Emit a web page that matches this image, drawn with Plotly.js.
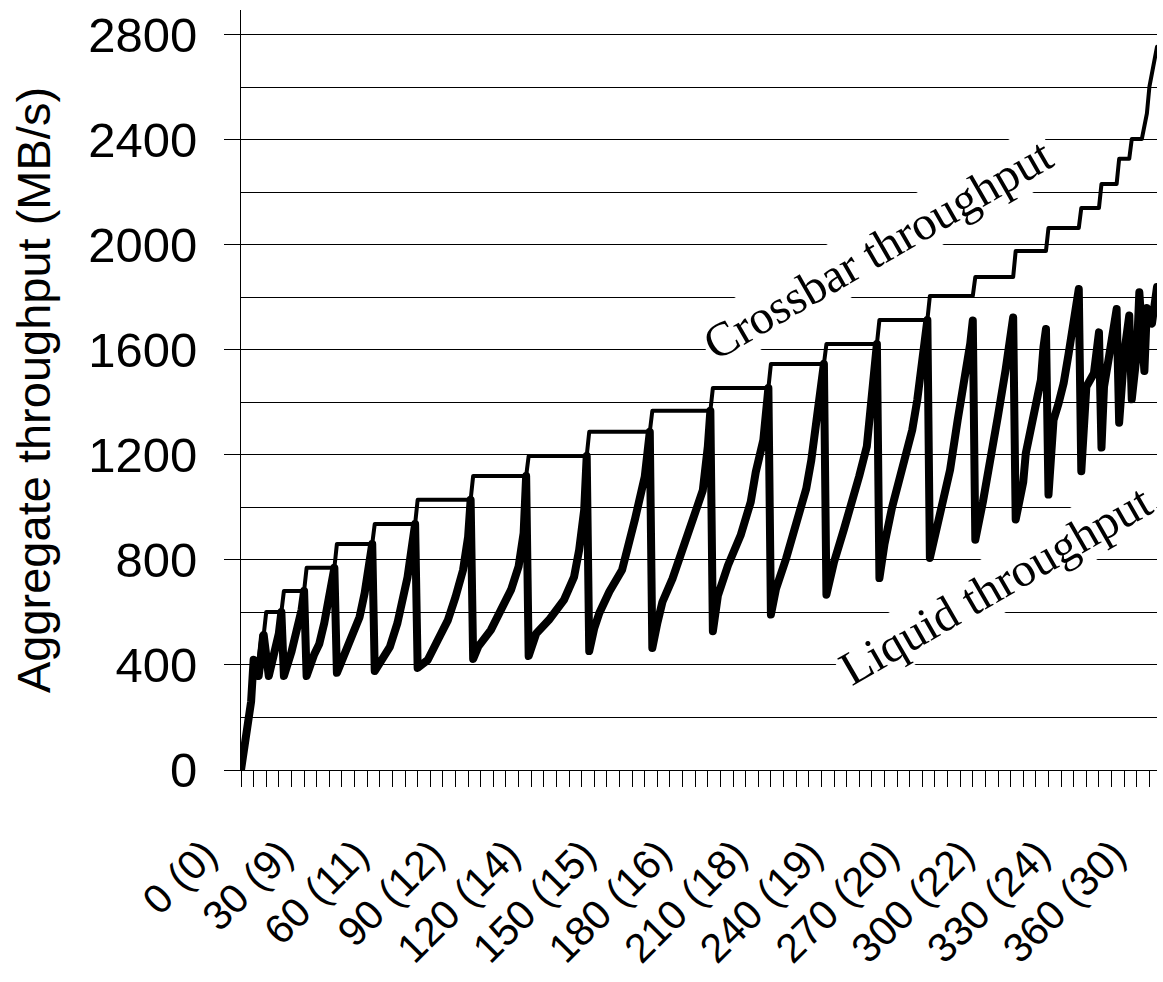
<!DOCTYPE html>
<html>
<head>
<meta charset="utf-8">
<script src="https://cdn.plot.ly/plotly-3.0.1.min.js"></script>
<style>
  html, body { margin: 0; padding: 0; background: #fff; }
  #chart { width: 1163px; height: 982px; }
  path.js-line { stroke-linejoin: round !important; stroke-linecap: round !important; }
</style>
</head>
<body>
<div id="chart"></div>
<script>
// Category index (seconds) and values
const crossbarX = [0, 3, 4, 5, 7, 8, 9, 10, 16, 17, 25, 26, 37, 38, 52, 53, 69, 70, 91, 92, 113, 114, 137, 138, 162, 163, 186, 187, 209, 210, 231, 232, 252, 253, 272, 273, 290, 291, 306, 307, 319, 320, 332, 333, 340, 341, 347, 348, 352, 353, 357, 359, 360, 363];
const crossbarY = [0, 170, 260, 420, 420, 514, 514, 602, 602, 682, 682, 770, 770, 861, 861, 937, 937, 1029, 1029, 1120, 1120, 1196, 1196, 1288, 1288, 1368, 1368, 1455, 1455, 1547, 1547, 1623, 1623, 1714, 1714, 1806, 1806, 1878, 1878, 1977, 1977, 2065, 2065, 2141, 2141, 2232, 2232, 2328, 2328, 2404, 2404, 2501, 2603, 2755];

const liquidX = [0, 3, 4, 5, 6, 7, 9, 11, 13, 15, 16, 17, 20, 22, 24, 25, 26, 29, 31, 33, 35, 36, 37, 38, 40, 42, 45, 47, 49, 51, 52, 53, 56, 59, 62, 64, 66, 68, 69, 70, 74, 78, 82, 85, 88, 90, 91, 92, 94, 99, 103, 107, 110, 112, 113, 114, 117, 122, 128, 132, 134, 136, 137, 138, 140, 142, 146, 151, 156, 160, 162, 163, 165, 167, 171, 175, 179, 183, 185, 186, 187, 189, 193, 198, 202, 204, 207, 208, 209, 210, 212, 216, 220, 224, 226, 228, 230, 231, 232, 235, 239, 243, 245, 248, 250, 252, 253, 255, 258, 262, 266, 268, 270, 272, 273, 276, 280, 281, 284, 287, 289, 290, 291, 294, 296, 300, 303, 306, 307, 310, 311, 314, 317, 318, 319, 320, 322, 324, 326, 328, 330, 332, 333, 335, 338, 339, 340, 341, 342, 344, 346, 347, 348, 350, 352, 353, 355, 356, 358, 359, 361, 363];
const liquidY = [0, 170, 260, 420, 415, 358, 514, 358, 430, 520, 602, 358, 450, 520, 610, 682, 358, 440, 480, 560, 650, 720, 770, 370, 420, 457, 533, 583, 674, 790, 861, 377, 427, 469, 560, 636, 735, 870, 937, 389, 419, 495, 571, 659, 762, 888, 1029, 423, 470, 533, 610, 686, 775, 902, 1120, 434, 520, 571, 648, 736, 838, 990, 1196, 453, 540, 598, 680, 762, 950, 1117, 1288, 465, 560, 640, 729, 843, 945, 1065, 1232, 1368, 529, 665, 780, 894, 1021, 1135, 1257, 1371, 1455, 592, 690, 805, 945, 1072, 1180, 1333, 1480, 1547, 668, 792, 919, 1046, 1120, 1232, 1422, 1623, 731, 860, 1000, 1150, 1295, 1410, 1587, 1714, 808, 932, 1072, 1143, 1333, 1486, 1625, 1712, 877, 1021, 1123, 1350, 1524, 1724, 954, 1097, 1206, 1333, 1486, 1610, 1680, 1049, 1333, 1397, 1473, 1587, 1714, 1832, 1138, 1460, 1511, 1613, 1667, 1228, 1460, 1575, 1714, 1756, 1323, 1587, 1731, 1412, 1587, 1820, 1520, 1760, 1700, 1840];

const xTickVals = [0, 30, 60, 90, 120, 150, 180, 210, 240, 270, 300, 330, 360];
const xTickText = ["0 (0)", "30 (9)", "60 (11)", "90 (12)", "120 (14)", "150 (15)", "180 (16)", "210 (18)", "240 (19)", "270 (20)", "300 (22)", "330 (24)", "360 (30)"];
const yTickVals = [0, 400, 800, 1200, 1600, 2000, 2400, 2800];

const sans = "Liberation Sans, Arial, sans-serif";
const serif = "Liberation Serif, Times New Roman, serif";

const traces = [
  { x: crossbarX, y: crossbarY, type: "scatter", mode: "lines", name: "Crossbar throughput",
    line: { color: "#000", width: 4 }, hoverinfo: "skip" },
  { x: liquidX, y: liquidY, type: "scatter", mode: "lines", name: "Liquid throughput",
    line: { color: "#000", width: 8 }, hoverinfo: "skip" }
];

const layout = {
  width: 1163, height: 982,
  margin: { l: 241, r: 6, t: 10, b: 212 },
  paper_bgcolor: "#fff", plot_bgcolor: "#fff",
  showlegend: false,
  xaxis: {
    range: [0, 363], showgrid: false, zeroline: false,
    showline: true, linecolor: "#000", linewidth: 1,
    tickmode: "array", tickvals: xTickVals, ticktext: xTickText,
    ticks: "outside", ticklen: 16, tickcolor: "#000", tickwidth: 1,
    tickangle: -45, ticklabelshift: -36, ticklabelstandoff: 27,
    tickfont: { family: sans, size: 41, color: "#000" },
    minor: { tick0: 0, dtick: 5, ticks: "outside", ticklen: 16, tickcolor: "#000", tickwidth: 1, showgrid: false }
  },
  yaxis: {
    range: [0, 2895], zeroline: false,
    showline: true, linecolor: "#000", linewidth: 1,
    tickmode: "array", tickvals: yTickVals,
    ticks: "outside", ticklen: 16, tickcolor: "#000", tickwidth: 1,
    showgrid: true, gridcolor: "#000", gridwidth: 1,
    tickfont: { family: sans, size: 49, color: "#000" },
    ticklabelstandoff: 17,
    minor: { tick0: 0, dtick: 200, showgrid: true, gridcolor: "#000", gridwidth: 1, ticks: "" },
    title: { text: "Aggregate throughput (MB/s)", font: { family: sans, size: 47, color: "#000" }, standoff: 22 },
    automargin: false
  },
  annotations: [
    { x: 252.5, y: 1985, xref: "x", yref: "y", text: "Crossbar throughput", showarrow: false,
      textangle: -30, font: { family: serif, size: 48, color: "#000" }, bgcolor: "#fff", borderpad: 2 },
    { x: 299, y: 706, xref: "x", yref: "y", text: "Liquid throughput", showarrow: false,
      textangle: -30, font: { family: serif, size: 48, color: "#000" }, bgcolor: "#fff", borderpad: 2 }
  ]
};

Plotly.newPlot("chart", traces, layout, { staticPlot: true, displayModeBar: false });
</script>
</body>
</html>
